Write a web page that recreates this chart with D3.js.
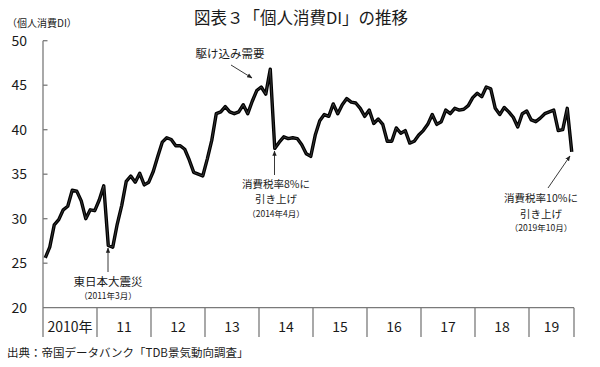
<!DOCTYPE html>
<html>
<head>
<meta charset="utf-8">
<script src="https://cdn.jsdelivr.net/npm/d3@7"></script>
<style>
  body { margin: 0; background: #fff; }
  svg { font-family: "Noto Sans CJK JP", "Noto Sans", sans-serif; }
</style>
</head>
<body>
<svg id="chart"></svg>
<script>
// monthly 個人消費DI, Jan 2010 - Oct 2019
const values2010 = [25.6, 26.8, 29.3, 29.9, 31.0, 31.4, 33.2, 33.1, 32.0, 30.0, 31.0, 30.9];
const values2011 = [32.1, 33.7, 27.0, 26.8, 29.4, 31.5, 34.2, 34.8, 34.1, 35.1, 33.8, 34.1];
const values2012 = [35.3, 37.0, 38.6, 39.1, 38.9, 38.2, 38.2, 37.8, 36.6, 35.2, 35.0, 34.8];
const values2013 = [36.7, 38.8, 41.8, 42.0, 42.6, 42.0, 41.8, 42.0, 42.8, 41.8, 43.2, 44.4];
const values2014 = [44.8, 44.0, 46.8, 37.9, 38.6, 39.2, 39.0, 39.1, 39.0, 38.3, 37.3, 37.0];
const values2015 = [39.4, 41.0, 41.7, 41.5, 42.9, 41.8, 42.8, 43.5, 43.1, 43.0, 42.4, 41.5];
const values2016 = [42.2, 40.7, 41.2, 40.6, 38.7, 38.7, 40.2, 39.6, 39.9, 38.5, 38.7, 39.4];
const values2017 = [39.9, 40.6, 41.7, 40.6, 40.9, 42.2, 41.8, 42.4, 42.2, 42.3, 42.7, 43.6];
const values2018 = [44.1, 43.7, 44.8, 44.6, 42.4, 41.7, 42.5, 42.0, 41.4, 40.3, 41.8, 42.1];
const values2019 = [41.1, 40.9, 41.3, 41.8, 42.0, 42.2, 39.9, 40.0, 42.4, 37.5];

const yearLabels = ["2010年", "11", "12", "13", "14", "15", "16", "17", "18", "19"];
const yTicks = [20, 25, 30, 35, 40, 45, 50];

const values = [].concat(values2010, values2011, values2012, values2013, values2014,
  values2015, values2016, values2017, values2018, values2019);

const W = 600, H = 367;
const svg = d3.select("#chart").attr("width", W).attr("height", H);

const x = d3.scaleLinear().domain([0, values.length]).range([43, 574]);
const y = d3.scaleLinear().domain([20, 50]).range([307.7, 40.7]);

const axisColor = "#7a7a7a";
const textColor = "#1a1a1a";

// title
svg.append("text")
  .attr("x", 301).attr("y", 24)
  .attr("text-anchor", "middle")
  .style("font-size", "16.5px")
  .style("fill", textColor)
  .text("図表３「個人消費DI」の推移");

svg.append("text")
  .attr("x", 7).attr("y", 27)
  .style("font-size", "10px")
  .style("fill", textColor)
  .text("（個人消費DI）");

// y axis
const yAxis = svg.append("g");
yAxis.append("line")
  .attr("x1", x(0)).attr("x2", x(0))
  .attr("y1", y(50)).attr("y2", 337)
  .attr("stroke", axisColor).attr("stroke-width", 1.3);

yAxis.selectAll(".ytick")
  .data(yTicks.filter((d) => d > 20))
  .enter()
  .append("line")
  .attr("x1", x(0)).attr("x2", x(0) + 4.5)
  .attr("y1", (d) => y(d)).attr("y2", (d) => y(d))
  .attr("stroke", axisColor).attr("stroke-width", 1.3);

yAxis.selectAll(".ylabel")
  .data(yTicks)
  .enter()
  .append("text")
  .attr("x", 27)
  .attr("y", (d) => y(d))
  .attr("dy", "0.36em")
  .attr("text-anchor", "end")
  .style("font-size", "14px")
  .style("fill", textColor)
  .text((d) => d);

// x axis with year bands
const xAxis = svg.append("g");
xAxis.append("line")
  .attr("x1", x(0)).attr("x2", x(values.length))
  .attr("y1", y(20)).attr("y2", y(20))
  .attr("stroke", axisColor).attr("stroke-width", 1.3);

const bounds = yearLabels.map((d, i) => i * 12).concat([values.length]);
xAxis.selectAll(".xtick")
  .data(bounds.slice(1))
  .enter()
  .append("line")
  .attr("x1", (d) => x(d)).attr("x2", (d) => x(d))
  .attr("y1", y(20)).attr("y2", 337)
  .attr("stroke", axisColor).attr("stroke-width", 1.3);

xAxis.selectAll(".xlabel")
  .data(yearLabels)
  .enter()
  .append("text")
  .attr("x", (d, i) => (x(bounds[i]) + x(bounds[i + 1])) / 2)
  .attr("y", 327)
  .attr("dy", "0.36em")
  .attr("text-anchor", "middle")
  .style("font-size", "14px")
  .style("fill", textColor)
  .text((d) => d);

// line
const line = d3.line()
  .x((d, i) => x(i + 0.5))
  .y((d) => y(d));

svg.append("path")
  .datum(values)
  .attr("d", line)
  .attr("fill", "none")
  .attr("stroke", "#000")
  .attr("stroke-width", 3.4)
  .attr("stroke-linejoin", "round");

svg.append("path")
  .datum(values)
  .attr("d", line)
  .attr("fill", "none")
  .attr("stroke", "#fff")
  .attr("stroke-width", 0.6)
  .attr("stroke-opacity", 0.35)
  .attr("stroke-linejoin", "round");

// annotations
svg.append("defs").append("marker")
  .attr("id", "arrow")
  .attr("viewBox", "0 0 10 10")
  .attr("refX", 9).attr("refY", 5)
  .attr("markerWidth", 6).attr("markerHeight", 6)
  .attr("orient", "auto")
  .append("path")
  .attr("d", "M0,1 L10,5 L0,9 Z")
  .attr("fill", "#222");

const arrows = [
  [231, 65, 252, 78],
  [274.5, 175, 274.5, 151],
  [548, 188, 570, 156],
  [108, 272, 108, 248]
];
svg.selectAll(".arrow")
  .data(arrows)
  .enter()
  .append("line")
  .attr("x1", (d) => d[0]).attr("y1", (d) => d[1])
  .attr("x2", (d) => d[2]).attr("y2", (d) => d[3])
  .attr("stroke", "#222").attr("stroke-width", 0.9)
  .attr("marker-end", "url(#arrow)");

// multi-line notes: one text element each, lines as tspans
const notes = [
  { x: 230, y: 58, lines: [["駆け込み需要", 11.5, 0]] },
  { x: 276, y: 187.5, lines: [["消費税率8%に", 10.5, 0], ["引き上げ", 10.5, 15.5], ["（2014年4月）", 8.5, 13.5]] },
  { x: 541, y: 202, lines: [["消費税率10%に", 10.5, 0], ["引き上げ", 10.5, 15.5], ["（2019年10月）", 8.5, 13.5]] },
  { x: 108, y: 286, lines: [["東日本大震災", 11.5, 0], ["（2011年3月）", 8.5, 13]] }
];
const noteText = svg.selectAll(".note")
  .data(notes)
  .enter()
  .append("text")
  .attr("class", "note")
  .attr("x", (d) => d.x).attr("y", (d) => d.y)
  .attr("text-anchor", "middle")
  .style("fill", textColor);

noteText.selectAll("tspan")
  .data((d) => d.lines.map((l) => ({ x: d.x, t: l[0], size: l[1], dy: l[2] })))
  .enter()
  .append("tspan")
  .attr("x", (d) => d.x)
  .attr("dy", (d) => d.dy)
  .style("font-size", (d) => d.size + "px")
  .text((d) => d.t);

// source
svg.append("text")
  .attr("x", 7).attr("y", 357)
  .style("font-size", "11.5px")
  .style("fill", textColor)
  .text("出典：帝国データバンク「TDB景気動向調査」");
</script>
</body>
</html>
